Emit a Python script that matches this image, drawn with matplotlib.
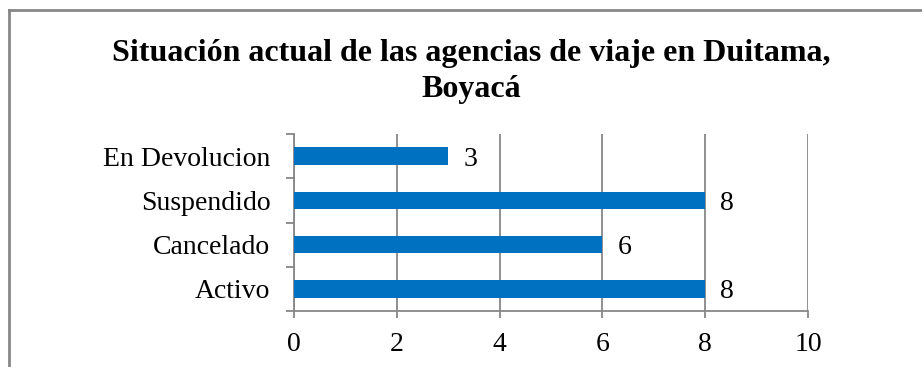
import matplotlib.pyplot as plt
from matplotlib.lines import Line2D
import numpy as np

# Situación de las agencias (de abajo hacia arriba)
estados = ["Activo", "Cancelado", "Suspendido", "En Devolucion"]
cantidades = [8, 6, 8, 3]
x_ticks = [0, 2, 4, 6, 8, 10]

plt.rcParams['font.family'] = ['Liberation Serif', 'DejaVu Serif']

azul = '#0070C0'
gris = '#878787'

fig = plt.figure(figsize=(9.22, 3.67), dpi=100)
ax = fig.add_axes([294/922, 1 - 311/367, 514/922, 177/367])

y = np.arange(len(estados))
ax.barh(y, cantidades, height=0.39, color=azul, zorder=3)
for yi, v in zip(y, cantidades):
    ax.annotate(str(v), (v, yi), xytext=(11, 0), textcoords='offset points',
                va='center_baseline', ha='left', fontsize=20)

ax.set_xlim(0, 10)
ax.set_ylim(-0.5, len(estados) - 0.5)
ax.set_xticks(x_ticks)
ax.set_xticklabels([str(t) for t in x_ticks], fontsize=20)
ax.set_yticks(y)
ax.set_yticklabels(estados, fontsize=20)
ax.set_yticks(np.arange(-0.5, len(estados)), minor=True)

ax.grid(axis='x', color=gris, linewidth=1.3, zorder=0)
for s in ['top', 'right']:
    ax.spines[s].set_visible(False)
for s in ['left', 'bottom']:
    ax.spines[s].set_color(gris)
    ax.spines[s].set_linewidth(1.3)

ax.tick_params(axis='y', which='major', length=0, pad=17)
ax.tick_params(axis='y', which='minor', length=6, width=1.3, color=gris)
ax.tick_params(axis='x', length=5, width=1.3, color=gris, pad=10)

fig.text(471/922, 1 - 53/367, "Situación actual de las agencias de viaje en Duitama,",
         ha='center', va='center', fontsize=23, fontweight='bold')
fig.text(471/922, 1 - 89/367, "Boyacá",
         ha='center', va='center', fontsize=23, fontweight='bold')

# marco del gráfico
fig.add_artist(Line2D([9/922, 1], [1 - 10/367, 1 - 10/367], color=gris, linewidth=2))
fig.add_artist(Line2D([9/922, 9/922], [0, 1 - 10/367], color=gris, linewidth=2))

fig.savefig('out.png', dpi=100)
